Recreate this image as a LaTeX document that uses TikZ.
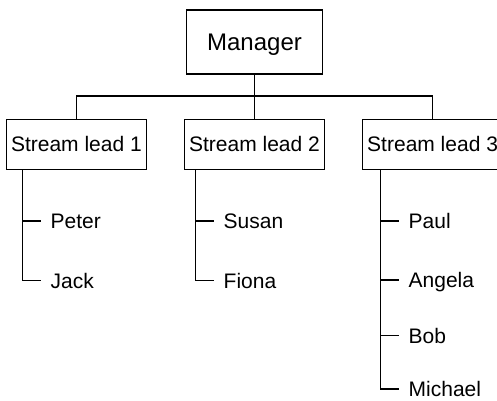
\documentclass[tikz,border=0pt]{standalone}
\usepackage{fontspec}
\setmainfont{Liberation Sans}
\usepackage{tikz}
\usetikzlibrary{positioning}

\begin{document}
\begin{tikzpicture}[
  x=1pt, y=1pt,
  node distance=37pt,
  boss/.style={
    draw, line width=1.1pt, inner sep=0pt,
    minimum width=136pt, minimum height=64pt,
    text height=17pt, text depth=0pt,
    font=\fontsize{24}{28}\selectfont
  },
  lead/.style={
    draw, line width=1.1pt, inner sep=0pt,
    minimum width=140pt, minimum height=50pt,
    text height=15pt, text depth=0pt,
    font=\fontsize{21}{25}\selectfont
  },
  member/.style={
    anchor=west, inner sep=0pt,
    text height=15pt, text depth=0pt,
    font=\fontsize{21}{25}\selectfont
  },
  link/.style={draw=black, line width=1.1pt}
]
\useasboundingbox (0,0) rectangle (497,400);
\node[boss] (mgr) at (254.5,358) {Manager};
\node[lead, below=44pt of mgr] (lead2) {Stream lead 2};
\node[lead, left=of lead2] (lead1) {Stream lead 1};
\node[lead, right=of lead2] (lead3) {Stream lead 3};
\coordinate (bus) at (254.5,304);
\draw[link] (mgr) -- (bus);
\draw[link] (lead1.north) |- (bus) -| (lead3.north);
\draw[link] (lead2) -- (bus);
\node[member] (peter) at (50.5,179) {Peter};
\node[member] (jack) at (50.5,119.5) {Jack};
\node[member] (susan) at (223.5,179) {Susan};
\node[member] (fiona) at (223.5,119.5) {Fiona};
\node[member] (paul) at (408.5,179) {Paul};
\node[member] (angela) at (408.5,120) {Angela};
\node[member] (bob) at (408.5,64.5) {Bob};
\node[member] (michael) at (408.5,11) {Michael};
\coordinate (t1) at ([xshift=-28pt]peter.west);
\coordinate (t2) at ([xshift=-28pt]susan.west);
\coordinate (t3) at ([xshift=-28pt]paul.west);
\draw[link] (t1 |- lead1.south) |- ([xshift=-10pt]jack.west);
\draw[link] (t1) -- ([xshift=-10pt]peter.west);
\draw[link] (t2 |- lead2.south) |- ([xshift=-10pt]fiona.west);
\draw[link] (t2) -- ([xshift=-10pt]susan.west);
\draw[link] (t3 |- lead3.south) |- ([xshift=-10pt]michael.west);
\draw[link] (t3) -- ([xshift=-10pt]paul.west);
\draw[link] (t3 |- angela.west) -- ([xshift=-10pt]angela.west);
\draw[link] (t3 |- bob.west) -- ([xshift=-10pt]bob.west);
\end{tikzpicture}
\end{document}
